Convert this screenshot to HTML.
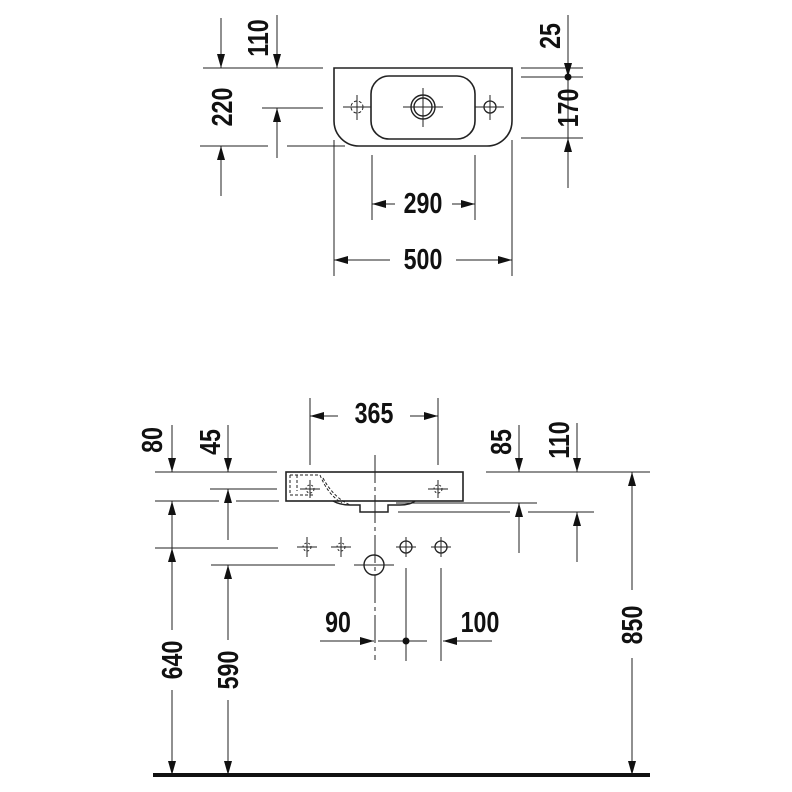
<!DOCTYPE html>
<html><head><meta charset="utf-8"><style>
html,body{margin:0;padding:0;background:#fff;}
svg{display:block}
text{font-family:"Liberation Sans",sans-serif;font-weight:bold;font-size:29px;fill:#111;text-anchor:middle;dominant-baseline:central}
</style></head><body>
<svg width="792" height="792" viewBox="0 0 792 792" xmlns="http://www.w3.org/2000/svg">
<defs>
<marker id="a" viewBox="0 0 14 8" refX="14" refY="4" markerWidth="14" markerHeight="8" markerUnits="userSpaceOnUse" orient="auto"><path d="M0,0 L14,4 L0,8z" fill="#111"/></marker>
</defs>
<g stroke="#222" stroke-width="1" fill="none">
<path d="M334,68 H512 V121 A25,25 0 0 1 487,146 H359 A25,25 0 0 1 334,121 Z" stroke-width="1.6"/>
<rect x="371" y="76" width="104" height="63" rx="18" stroke-width="1.6"/>
<circle cx="423" cy="107" r="12" stroke-width="1.4"/>
<circle cx="423" cy="107" r="9" stroke-width="1.4"/>
<path d="M403,107 H443 M423,88 V127"/>
<circle cx="357" cy="107" r="6" stroke-dasharray="3,2"/>
<path d="M343,107 H371 M357,95 V120"/>
<circle cx="490" cy="107" r="6" stroke-width="1.3"/>
<path d="M475,107 H504 M490,95 V120"/>
<path d="M203,68 H323 M521,68 H583 M521,77 H583 M262,108 H323 M200,146 H268 M287,146 H345 M521,138 H583"/>
<path d="M372,155 V220 M475,155 V220 M334,140 V276 M512,140 V276"/>
<path d="M568,77 V138"/>
<rect x="286" y="472" width="177" height="29" stroke-width="1.6"/>
<path d="M333,501 Q340,505 350,505 H360 V512 H388 V505 H400 Q410,505 415,501" stroke-width="1.5"/>
<path d="M290,475 V495 H315 M290,475 H320 Q328,495 342,503" stroke-dasharray="3,2"/>
<path d="M297,475 V491 M323,478 Q333,497 350,505" stroke-dasharray="3,2"/>
<path d="M300,489 H320 M310,480 V498 M428,489 H448 M438,480 V498"/>
<circle cx="310" cy="489" r="4" stroke-dasharray="2,2"/>
<circle cx="438" cy="489" r="4" stroke-dasharray="2,2"/>
<path d="M375,455 V660" stroke-dasharray="28,4,4,4"/>
<path d="M155,472 H277 M486,472 H650 M210,489 H277 M155,501 H219 M236,501 H279 M396,503 H537 M398,512 H510 M528,512 H594 M155,548 H278 M211,565 H335"/>
<path d="M310,398 V465 M438,398 V465"/>
<path d="M297,547 H317 M307,537 V557 M331,547 H351 M341,537 V557 M396,547 H416 M406,537 V557 M431,547 H451 M441,537 V557"/>
<circle cx="307" cy="547" r="4" stroke-dasharray="2,2"/>
<circle cx="341" cy="547" r="4" stroke-dasharray="2,2"/>
<circle cx="406" cy="547" r="6" stroke-width="1.3"/>
<circle cx="441" cy="547" r="6" stroke-width="1.3"/>
<circle cx="374" cy="565" r="10" stroke-width="1.4"/>
<path d="M354,565 H394"/>
<path d="M406,568 V661 M441,568 V661"/>
<path d="M378,641 H427"/>
</g>
<g stroke="#222" stroke-width="1" fill="none" marker-end="url(#a)">
<line x1="221" y1="18" x2="221" y2="68"/>
<line x1="277" y1="15" x2="277" y2="68"/>
<line x1="221" y1="196" x2="221" y2="146"/>
<line x1="277" y1="158" x2="277" y2="108"/>
<line x1="568" y1="15" x2="568" y2="77"/>
<line x1="568" y1="188" x2="568" y2="138"/>
<line x1="395" y1="204" x2="372" y2="204"/>
<line x1="452" y1="204" x2="475" y2="204"/>
<line x1="390" y1="260" x2="334" y2="260"/>
<line x1="456" y1="260" x2="512" y2="260"/>
<line x1="338" y1="416" x2="310" y2="416"/>
<line x1="410" y1="416" x2="438" y2="416"/>
<line x1="172" y1="425" x2="172" y2="472"/>
<line x1="228" y1="425" x2="228" y2="472"/>
<line x1="519" y1="425" x2="519" y2="472"/>
<line x1="577" y1="423" x2="577" y2="472"/>
<line x1="172" y1="548" x2="172" y2="501"/>
<line x1="228" y1="540" x2="228" y2="489"/>
<line x1="519" y1="553" x2="519" y2="503"/>
<line x1="577" y1="562" x2="577" y2="512"/>
<line x1="172" y1="630" x2="172" y2="548"/>
<line x1="228" y1="640" x2="228" y2="565"/>
<line x1="632" y1="590" x2="632" y2="472"/>
<line x1="172" y1="690" x2="172" y2="775"/>
<line x1="228" y1="700" x2="228" y2="775"/>
<line x1="632" y1="658" x2="632" y2="775"/>
<line x1="320" y1="641" x2="374" y2="641"/>
<line x1="492" y1="641" x2="443" y2="641"/>
</g>
<circle cx="568" cy="77" r="3.5" fill="#111"/>
<circle cx="406" cy="641" r="3.5" fill="#111"/>
<rect x="153" y="773" width="497" height="4" fill="#111"/>
<text transform="translate(423,203) scale(0.8,1)">290</text>
<text transform="translate(423,259) scale(0.8,1)">500</text>
<text transform="translate(374,413) scale(0.8,1)">365</text>
<text transform="translate(338,622) scale(0.8,1)">90</text>
<text transform="translate(480,622) scale(0.8,1)">100</text>
<text transform="translate(222,107) rotate(-90) scale(0.8,1)">220</text>
<text transform="translate(258,38) rotate(-90) scale(0.8,1)">110</text>
<text transform="translate(550,36) rotate(-90) scale(0.8,1)">25</text>
<text transform="translate(568,108) rotate(-90) scale(0.8,1)">170</text>
<text transform="translate(152,440) rotate(-90) scale(0.8,1)">80</text>
<text transform="translate(210,442) rotate(-90) scale(0.8,1)">45</text>
<text transform="translate(501,442) rotate(-90) scale(0.8,1)">85</text>
<text transform="translate(559,440) rotate(-90) scale(0.8,1)">110</text>
<text transform="translate(172,660) rotate(-90) scale(0.8,1)">640</text>
<text transform="translate(228,670) rotate(-90) scale(0.8,1)">590</text>
<text transform="translate(632,625) rotate(-90) scale(0.8,1)">850</text>
</svg>
</body></html>
